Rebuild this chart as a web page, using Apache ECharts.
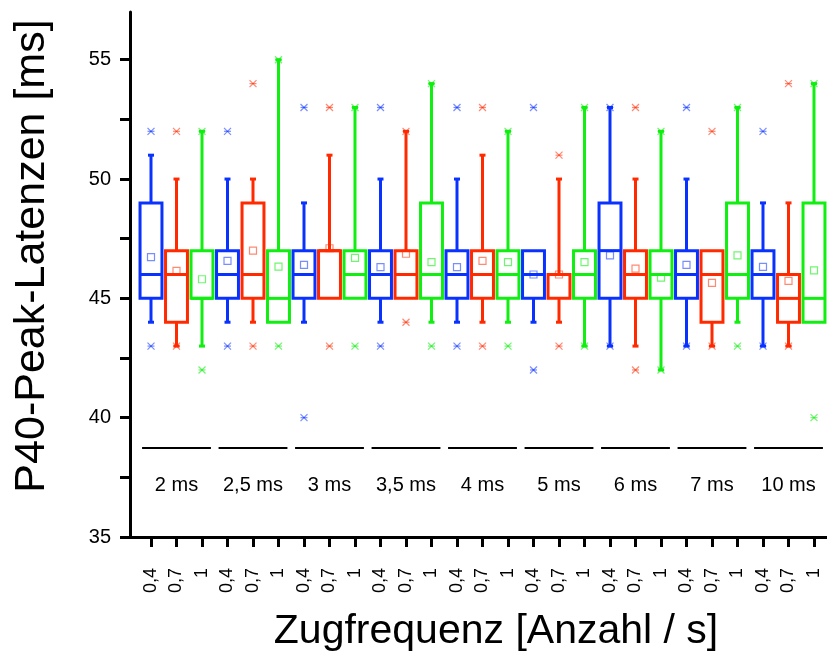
<!DOCTYPE html>
<html>
<head>
<meta charset="utf-8">
<script src="https://cdn.jsdelivr.net/npm/echarts@6/dist/echarts.min.js"></script>
<style>
  html, body { margin: 0; padding: 0; background: #fff; }
  #chart { width: 827px; height: 655px; }
</style>
</head>
<body>
<div id="chart"></div>
<script>
// Pulse widths (groups) and train frequencies (boxes inside each group)
const groups = ['2 ms', '2,5 ms', '3 ms', '3,5 ms', '4 ms', '5 ms', '6 ms', '7 ms', '10 ms'];
const rates = ['0,4', '0,7', '1'];

// Box statistics per box, group-major order (0,4 / 0,7 / 1 for each pulse width)
const q1 = [45, 44, 45, 45, 45, 44, 45, 45, 45, 45, 45, 45, 45, 45, 45, 45, 45, 45, 45, 45, 45, 45, 44, 45, 45, 44, 44];
const median = [46, 46, 45, 46, 46, 45, 46, 47, 46, 46, 46, 46, 46, 46, 46, 46, 46, 46, 47, 46, 46, 46, 46, 46, 46, 45, 45];
const q3 = [49, 47, 47, 47, 49, 47, 47, 47, 47, 47, 47, 49, 47, 47, 47, 47, 46, 47, 49, 47, 47, 47, 47, 49, 47, 46, 49];
const whiskerLow = [44, 43, 43, 44, 44, 44, 44, 45, 45, 44, 45, 44, 44, 44, 44, 44, 44, 43, 43, 43, 42, 43, 43, 44, 43, 43, 44];
const whiskerHigh = [51, 50, 52, 50, 50, 55, 49, 51, 53, 50, 52, 54, 50, 51, 52, 47, 50, 53, 53, 50, 52, 50, 47, 53, 49, 49, 54];
const mean = [46.73, 46.15, 45.8, 46.57, 47.0, 46.33, 46.4, 47.1, 46.7, 46.31, 46.87, 46.52, 46.31, 46.57, 46.52, 46.0, 46.0, 46.52, 46.8, 46.25, 45.87, 46.4, 45.65, 46.8, 46.32, 45.73, 46.17];
const extremeLow = [43, 43, 42, 43, 43, 43, 40, 43, 43, 43, 44, 43, 43, 43, 43, 42, 43, 43, 43, 42, 42, 43, 43, 43, 43, 43, 40];
const extremeHigh = [52, 52, 52, 52, 54, 55, 53, 53, 53, 53, 52, 54, 53, 53, 52, 53, 51, 53, 53, 53, 52, 53, 52, 53, 52, 54, 54];

// Y-axis ticks
const yMajorTicks = [35, 40, 45, 50, 55];
const yAllTicks = [35, 37.5, 40, 42.5, 45, 47.5, 50, 52.5, 55];

const colors = ['#0a32ff', '#ff2a00', '#11ee11'];
const lightColors = ['rgba(10,50,255,0.55)', 'rgba(255,42,0,0.55)', 'rgba(17,238,17,0.6)'];
const FONT = '"Liberation Sans", Arial, sans-serif';

const boxIdx = q1.map((_, i) => i);
const boxData = boxIdx.map(i => [i, q1[i], median[i], q3[i], whiskerLow[i], whiskerHigh[i], mean[i], extremeLow[i], extremeHigh[i]]);
const groupData = groups.map((g, k) => [k * 3 + 1, k]);

// Level (in axis units) of the group brackets and their labels
const BRACKET_Y = 38.73;
const GROUP_LABEL_Y = 37.14;

function renderBox(params, api) {
  const i = api.value(0);
  const c = colors[i % 3];
  const lc = lightColors[i % 3];
  const unit = api.size([1, 0])[0];
  const w = unit * 0.86;
  const cx = api.coord([i, 40])[0];
  const y = v => api.coord([i, v])[1];
  const vQ1 = api.value(1), vMed = api.value(2), vQ3 = api.value(3);
  const vLo = api.value(4), vHi = api.value(5), vMean = api.value(6);
  const vXLo = api.value(7), vXHi = api.value(8);
  const line = (x1, y1, x2, y2, stroke, lw) => ({
    type: 'line', shape: { x1, y1, x2, y2 }, style: { stroke, lineWidth: lw }
  });
  const children = [];
  if (vHi > vQ3) {
    children.push(line(cx, y(vQ3), cx, y(vHi), c, 3));
    children.push({ type: 'rect', shape: { x: cx - 3, y: y(vHi) - 1.5, width: 6, height: 3 }, style: { fill: c } });
  }
  if (vLo < vQ1) {
    children.push(line(cx, y(vQ1), cx, y(vLo), c, 3));
    children.push({ type: 'rect', shape: { x: cx - 3, y: y(vLo) - 1.5, width: 6, height: 3 }, style: { fill: c } });
  }
  children.push({
    type: 'rect',
    shape: { x: cx - w / 2, y: y(vQ3), width: w, height: y(vQ1) - y(vQ3) },
    style: { fill: 'none', stroke: c, lineWidth: 3 }
  });
  children.push(line(cx - w / 2, y(vMed), cx + w / 2, y(vMed), c, 3));
  // mean marker
  children.push({
    type: 'rect',
    shape: { x: cx - 3.5, y: y(vMean) - 3.5, width: 7, height: 7 },
    style: { fill: 'none', stroke: lc, lineWidth: 1.2 }
  });
  // extreme value markers
  [vXLo, vXHi].forEach(v => {
    const py = y(v);
    children.push(line(cx - 3.5, py - 3.5, cx + 3.5, py + 3.5, lc, 1.2));
    children.push(line(cx - 3.5, py + 3.5, cx + 3.5, py - 3.5, lc, 1.2));
    children.push(line(cx - 3.5, py, cx + 3.5, py, lc, 1.2));
  });
  return { type: 'group', children };
}

function renderGroup(params, api) {
  const centre = api.value(0);
  const k = api.value(1);
  const left = api.coord([centre - 1.35, BRACKET_Y]);
  const right = api.coord([centre + 1.35, BRACKET_Y]);
  const textPos = api.coord([centre, GROUP_LABEL_Y]);
  return {
    type: 'group',
    children: [
      { type: 'line', shape: { x1: left[0], y1: left[1], x2: right[0], y2: right[1] }, style: { stroke: '#000', lineWidth: 2 } },
      { type: 'text', x: textPos[0], y: textPos[1],
        style: { text: groups[k], fill: '#000', font: '20px ' + FONT, align: 'center', verticalAlign: 'middle' } }
    ]
  };
}

const chart = echarts.init(document.getElementById('chart'), null, { renderer: 'canvas' });
chart.setOption({
  animation: false,
  backgroundColor: '#fff',
  grid: { left: 130, right: 0, top: 12, bottom: 118, containLabel: false, outerBoundsMode: 'none' },
  xAxis: {
    type: 'value',
    min: -0.8235,
    max: 26.51,
    axisLine: { show: true, onZero: false, lineStyle: { color: '#000', width: 3 } },
    axisTick: { show: true, customValues: boxIdx, length: 10, lineStyle: { color: '#000', width: 3 } },
    axisLabel: {
      show: true, customValues: boxIdx, rotate: 90, margin: 31,
      fontSize: 18, fontFamily: FONT, color: '#000',
      formatter: v => rates[Math.round(v) % 3]
    },
    splitLine: { show: false }
  },
  yAxis: {
    type: 'value',
    min: 35,
    max: 57,
    axisLine: { show: true, onZero: false, lineStyle: { color: '#000', width: 3 } },
    axisTick: { show: true, customValues: yAllTicks, length: 10, lineStyle: { color: '#000', width: 3 } },
    axisLabel: { show: true, customValues: yMajorTicks, margin: 19, fontSize: 20, fontFamily: FONT, color: '#000' },
    splitLine: { show: false }
  },
  graphic: [
    { type: 'text', x: 32, y: 256, rotation: Math.PI / 2,
      style: { text: 'P40-Peak-Latenzen [ms]', font: '43px ' + FONT, fill: '#000', align: 'center', verticalAlign: 'middle' } },
    { type: 'text', x: 496, y: 632,
      style: { text: 'Zugfrequenz [Anzahl / s]', font: '41px ' + FONT, fill: '#000', align: 'center', verticalAlign: 'middle' } }
  ],
  series: [
    { type: 'custom', name: 'brackets', renderItem: renderGroup, data: groupData, clip: false, silent: true },
    { type: 'custom', name: 'boxes', renderItem: renderBox, data: boxData, clip: false, silent: true }
  ]
});
</script>
</body>
</html>
